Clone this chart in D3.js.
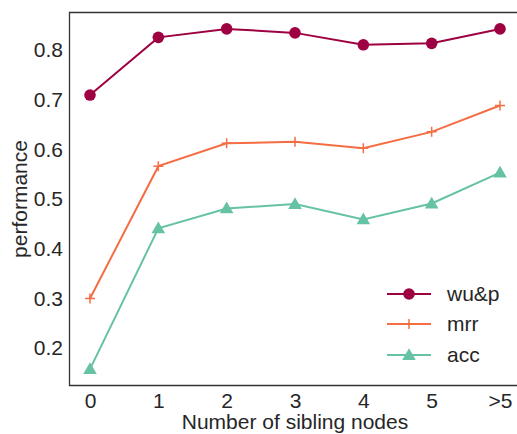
<!DOCTYPE html>
<html><head><meta charset="utf-8">
<script src="https://cdn.jsdelivr.net/npm/d3@7"></script>
<style>body{margin:0;background:#fff;}svg{display:block;font-family:"Liberation Sans",Arial,sans-serif;}</style>
</head><body><svg id="c" width="517" height="434"></svg>
<script>
const categories = ["0","1","2","3","4","5",">5"];
const wup = [0.709,0.825,0.842,0.834,0.810,0.813,0.842];
const mrr = [0.300,0.566,0.612,0.615,0.602,0.635,0.688];
const acc = [0.158,0.441,0.481,0.490,0.459,0.491,0.553];
const yTicks = [0.2,0.3,0.4,0.5,0.6,0.7,0.8];
const seriesNames = ["wu&p","mrr","acc"];
const colors = ["#9e0142","#f46d43","#66c2a5"];

const FS = 21;
const svg = d3.select("#c");
const L=69, T=12, R=517, B=386;
const x = d3.scalePoint().domain(categories).range([90,500]);
const y = d3.scaleLinear().domain([0.124,0.876]).range([B,T]);

// frame
svg.append("path").attr("d",`M${R},${T+0.5}H${L+0.5}V${B-0.5}H${R}`)
  .attr("fill","none").attr("stroke","#333").attr("stroke-width",1.3);

// y tick labels
const ya = svg.append("g").attr("transform",`translate(${L},0)`)
  .call(d3.axisLeft(y).tickValues(yTicks).tickSize(0).tickPadding(6).tickFormat(d3.format(".1f")));
ya.select(".domain").remove();
ya.selectAll("text").attr("font-size",FS).attr("fill","#262626").attr("font-family","Liberation Sans, Arial, sans-serif");

const xa = svg.append("g").attr("transform",`translate(0,${B})`)
  .call(d3.axisBottom(x).tickSize(0).tickPadding(7));
xa.select(".domain").remove();
xa.selectAll("text").attr("font-size",FS).attr("fill","#262626").attr("font-family","Liberation Sans, Arial, sans-serif");

svg.append("text").attr("x",295).attr("y",429).attr("text-anchor","middle")
  .attr("font-size",FS).attr("fill","#262626").text("Number of sibling nodes");
svg.append("text").attr("transform","translate(27,199) rotate(-90)").attr("text-anchor","middle")
  .attr("font-size",FS).attr("fill","#262626").text("performance");

const data = [wup,mrr,acc];
const line = d3.line().x((d,i)=>x(categories[i])).y(d=>y(d));

function marker(g, k, cx, cy){
  if(k===0){
    g.append("circle").attr("cx",cx).attr("cy",cy).attr("r",5.8).attr("fill",colors[0]);
  } else if(k===1){
    g.append("path").attr("d",`M${cx-5},${cy}H${cx+5}M${cx},${cy-5}V${cy+5}`)
      .attr("stroke",colors[1]).attr("stroke-width",1.5);
  } else {
    g.append("path").attr("transform",`translate(${cx},${cy+1})`)
      .attr("d",d3.symbol().type(d3.symbolTriangle).size(80)()).attr("fill",colors[2]);
  }
}

data.forEach((s,k)=>{
  svg.append("path").datum(s).attr("d",line).attr("fill","none")
    .attr("stroke",colors[k]).attr("stroke-width",2);
  const g = svg.append("g");
  s.forEach((v,i)=>marker(g,k,x(categories[i]),y(v)));
});

// legend
const legY = [294,324,355];
seriesNames.forEach((n,k)=>{
  svg.append("line").attr("x1",387).attr("x2",431).attr("y1",legY[k]).attr("y2",legY[k])
    .attr("stroke",colors[k]).attr("stroke-width",2);
  marker(svg.append("g"),k,409,legY[k]);
  svg.append("text").attr("x",447).attr("y",legY[k]).attr("dy","0.35em")
    .attr("font-size",FS).attr("fill","#262626").text(n);
});
</script></body></html>
